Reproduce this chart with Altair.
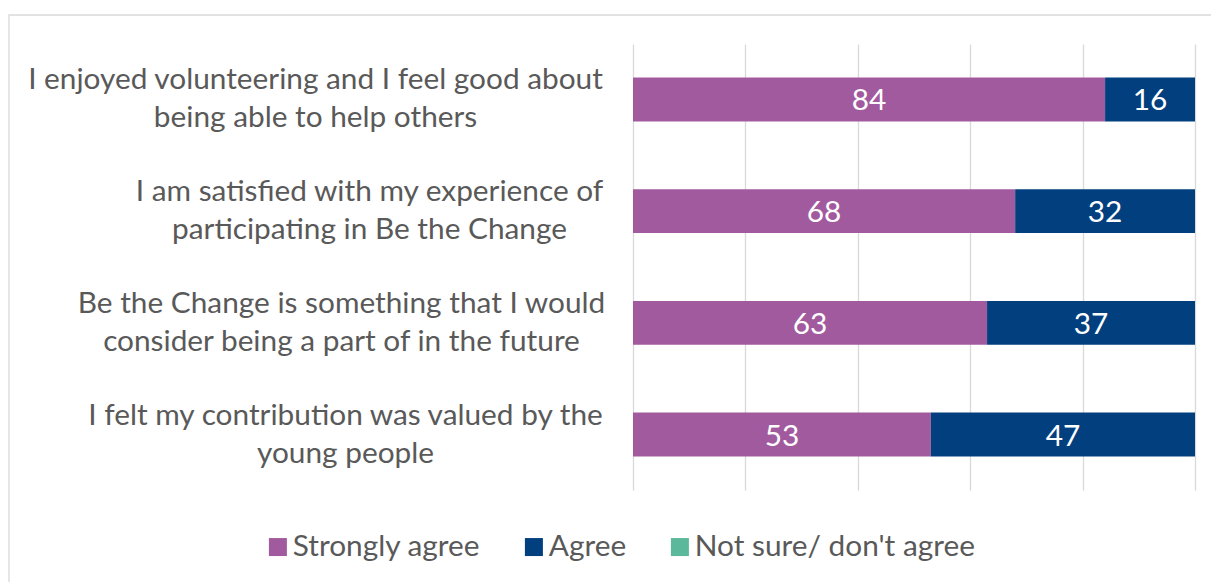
import altair as alt
import pandas as pd

# Survey statements (two display lines each, split on "|")
statements = [
    "I enjoyed volunteering and I feel good about|being able to help others",
    "I am satisfied with my experience of|participating in Be the Change",
    "Be the Change is something that I would|consider being a part of in the future",
    "I felt my contribution was valued by the|young people",
]
responses = ["Strongly agree", "Agree", "Not sure/ don't agree"]
strongly_agree = [84, 68, 63, 53]
agree = [16, 32, 37, 47]
not_sure = [0, 0, 0, 0]
colors = ["#A25A9F", "#023F7F", "#5CB89B"]
grid_values = [0, 20, 40, 60, 80, 100]

rows = []
for i, s in enumerate(statements):
    for k, (r, vals) in enumerate(zip(responses, [strongly_agree, agree, not_sure])):
        rows.append({"statement": s, "response": r, "value": vals[i], "order": k})
df = pd.DataFrame(rows)

FONT = "Lato"
GREY = "#595959"
FS = 29.8

# horizontal distance from the plot edge to the centre of each label block
label_centre_gap = [318, 264, 292, 288]
pad_expr = "[{}][indexof([{}], datum.value)]".format(
    ",".join(str(v) for v in label_centre_gap),
    ",".join("'" + s + "'" for s in statements),
)

y_enc = alt.Y(
    "statement:N",
    sort=statements,
    scale=alt.Scale(paddingInner=0.607, paddingOuter=0.30),
    axis=alt.Axis(
        title=None,
        labelExpr="split(datum.label, '|')",
        labelAlign="center",
        labelBaseline="middle",
        labelPadding=alt.ExprRef(pad_expr),
        labelOffset=-19,
        labelFont=FONT,
        labelFontSize=FS,
        labelLineHeight=38,
        labelColor=GREY,
        labelLimit=0,
        ticks=False,
        domain=False,
        grid=False,
    ),
)

x_enc = alt.X(
    "value:Q",
    stack="zero",
    scale=alt.Scale(domain=[0, 100], nice=False),
    axis=alt.Axis(
        title=None,
        values=grid_values,
        labels=False,
        ticks=False,
        domain=False,
        grid=True,
        gridColor="#d9d9d9",
        gridWidth=1.3,
    ),
)

bars = alt.Chart(df).mark_bar().encode(
    y=y_enc,
    x=x_enc,
    color=alt.Color(
        "response:N",
        scale=alt.Scale(domain=responses, range=colors),
        sort=responses,
        legend=alt.Legend(
            title=None,
            orient="none",
            direction="horizontal",
            legendX=-370,
            legendY=488,
            symbolType="square",
            symbolSize=324,
            symbolStrokeWidth=0,
            symbolOpacity=1,
            labelFont=FONT,
            labelFontSize=FS,
            labelColor=GREY,
            labelOffset=0,
            columnPadding=38,
            labelLimit=0,
        ),
    ),
    order=alt.Order("order:Q"),
)

labels = (
    alt.Chart(df)
    .transform_stack(
        stack="value",
        groupby=["statement"],
        as_=["x0", "x1"],
        sort=[alt.SortField("order")],
    )
    .transform_calculate(mid="(datum.x0 + datum.x1) / 2")
    .transform_filter("datum.value > 0")
    .mark_text(color="white", font=FONT, fontSize=FS, baseline="middle", dy=2)
    .encode(
        y=alt.Y("statement:N", sort=statements),
        x=alt.X("mid:Q"),
        text=alt.Text("value:Q"),
    )
)

frame = (
    alt.Chart(pd.DataFrame({"f": [0]}))
    .mark_rect(fill=None, stroke="#d9d9d9", strokeWidth=1.3)
    .encode(
        x=alt.value(-624),
        x2=alt.value(600),
        y=alt.value(-29),
        y2=alt.value(560),
    )
)

chart = (
    alt.layer(frame, bars, labels)
    .properties(
        width=562,
        height=446,
        autosize=alt.AutoSizeParams(type="none"),
        padding={"left": 633, "top": 44, "right": 16, "bottom": 92},
        background="white",
    )
    .configure_view(stroke=None)
)

chart.save("out.html", embed_options={"renderer": "svg", "actions": False})
